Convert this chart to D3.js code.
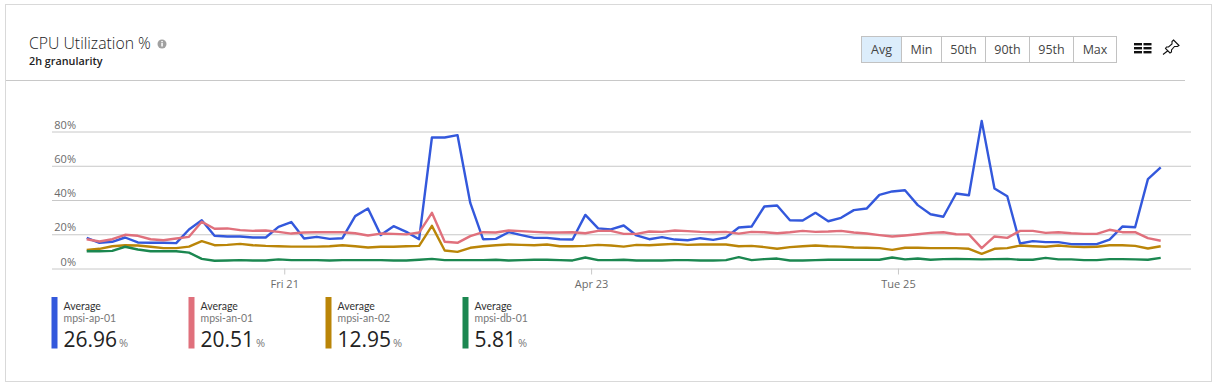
<!DOCTYPE html>
<html lang="en">
    <head>
        <meta charset="utf-8">
        <title>CPU Utilization %</title>
        <script src="https://d3js.org/d3.v7.min.js"></script>
        <style type="text/css">
            html, body { margin: 0; padding: 0; background: #fff; overflow: hidden; }
            svg { display: block; font-family: "Open Sans", sans-serif; }
            .axis path { display: none; }
            .axis line { stroke: #c8c8c8; }
            .axis text { fill: #6b6b6b; font-size: 11px; font-family: "Open Sans", sans-serif; }
        </style>
    </head>
    <body>
        <svg width="1216" height="385"></svg>
        <script type="text/javascript">

            const names = ["mpsi-ap-01", "mpsi-an-01", "mpsi-an-02", "mpsi-db-01"];
            const averages = ["26.96", "20.51", "12.95", "5.81"];
            const colors = ["#3358dc", "#e0707c", "#ba8508", "#1b8750"];
            const buttons = ["Avg", "Min", "50th", "90th", "95th", "Max"];
            const buttonEdges = [861.5, 901.5, 941.5, 985.5, 1029.5, 1073.5, 1116.5];

            const yTicks = [0, 20, 40, 60, 80];
            // x is the index of the 2h sample
            const xTicks = [15.45, 39.45, 63.45];
            const xLabels = ["Fri 21", "Apr 23", "Tue 25"];

            const ap01 = [17.9,15.0,15.6,18.1,15.2,15.0,15.0,14.8,22.8,28.2,
                19.1,18.7,18.7,18.1,18.1,24.3,27.1,17.5,18.5,17.3,
                17.7,30.6,35.0,19.5,24.7,21.4,17.1,76.5,76.5,77.9,
                38.3,17.1,17.3,21.2,19.5,17.9,17.9,17.1,16.9,31.3,
                23.4,22.8,25.1,19.3,17.1,18.3,16.9,16.5,17.7,16.7,
                18.1,23.9,24.5,36.2,36.8,28.2,28.0,32.5,27.6,29.6,
                34.1,35.0,43.0,45.0,45.7,37.0,31.7,30.2,43.8,42.8,
                86.2,46.7,42.2,14.6,16.0,15.4,15.4,14.2,14.2,14.2,
                16.9,24.5,24.1,52.2,59.0];
            const an01 = [17.1,15.8,17.1,19.7,19.1,17.1,16.5,17.5,18.5,27.3,
                23.2,23.4,22.4,22.0,22.2,21.4,20.4,21.0,21.2,21.2,
                21.2,20.6,19.3,20.4,20.2,19.9,21.0,32.5,15.6,15.0,
                18.9,21.2,21.0,22.2,21.8,21.4,21.0,21.0,21.2,20.6,
                22.0,22.0,20.2,20.2,21.6,21.4,22.2,21.8,21.4,21.2,
                21.4,20.4,21.4,21.2,20.6,21.2,22.0,21.4,21.6,22.0,
                21.0,20.4,19.5,18.7,19.3,20.0,20.8,21.2,20.0,19.9,
                11.9,18.7,17.9,22.0,22.0,20.8,21.2,20.6,20.2,20.2,
                22.6,21.2,21.2,17.7,16.2];
            const an02 = [10.9,11.5,13.0,13.6,13.4,12.7,11.9,11.9,12.8,16.0,
                13.6,13.8,14.4,13.6,13.2,13.0,12.8,12.8,12.8,13.0,
                13.6,13.0,12.3,12.7,12.7,13.0,13.2,24.9,10.5,9.7,
                12.1,13.0,13.6,14.0,13.8,13.6,14.0,13.0,13.0,13.2,
                13.8,13.4,12.8,13.8,13.6,14.0,14.4,13.8,14.0,14.0,
                14.0,13.0,13.2,12.5,11.5,12.5,13.0,13.4,13.0,12.8,
                12.3,12.1,11.9,10.9,12.1,12.1,11.9,11.9,11.9,11.5,
                8.6,11.5,11.9,13.4,13.0,12.7,13.4,12.8,12.5,12.7,
                13.6,13.6,13.2,11.7,13.0];
            const db01 = [10.1,10.1,10.3,12.7,11.1,10.1,10.1,10.1,9.3,5.6,
                4.5,4.7,4.9,4.7,4.7,5.3,4.9,4.9,4.9,4.7,
                4.9,4.9,4.9,4.9,4.7,4.7,5.1,5.6,4.9,4.9,
                4.9,4.9,5.1,4.7,4.9,5.1,5.1,4.9,4.7,6.4,
                4.9,4.9,5.1,4.7,4.7,4.7,4.9,4.9,4.7,4.7,
                4.9,6.6,4.9,5.5,5.8,4.7,4.7,4.9,5.1,5.1,
                5.1,5.1,5.1,6.4,5.3,5.8,5.1,5.5,5.6,5.5,
                5.3,5.5,5.6,5.1,5.1,6.2,5.3,5.3,4.9,4.9,
                5.5,5.5,5.3,5.1,6.2];
            const series = [ap01, an01, an02, db01];

            const svg = d3.select("svg");

            // card + header rule
            svg.append("rect").attr("x", 5.5).attr("y", 4.5).attr("width", 1206).attr("height", 377)
               .style("fill", "#fff").style("stroke", "#d9d9d9");
            svg.append("line").attr("x1", 6).attr("x2", 1185).attr("y1", 80.5).attr("y2", 80.5)
               .style("stroke", "#c8c8c8");

            svg.append("text").attr("x", 29).attr("y", 49).text("CPU Utilization %")
               .style("font-size", "15.8px").style("font-weight", 300).style("fill", "#222");
            svg.append("text").attr("x", 29).attr("y", 64.5).text("2h granularity")
               .style("font-size", "10.8px").style("font-weight", 600).style("fill", "#222");

            // info icon
            svg.append("circle").attr("cx", 162).attr("cy", 44).attr("r", 4.5).style("fill", "#a0a0a0");
            svg.append("rect").attr("x", 161.3).attr("y", 43).attr("width", 1.5).attr("height", 3.5).style("fill", "#fff");
            svg.append("rect").attr("x", 161.3).attr("y", 41).attr("width", 1.5).attr("height", 1.3).style("fill", "#fff");

            // aggregation buttons
            const btn = svg.selectAll(".btn").data(buttons).enter().append("g").attr("class", "btn");
            btn.append("rect")
               .attr("x", (d, i) => buttonEdges[i])
               .attr("y", 36.5)
               .attr("width", (d, i) => buttonEdges[i + 1] - buttonEdges[i])
               .attr("height", 26)
               .style("fill", (d, i) => i == 0 ? "#dcedfb" : "#fff")
               .style("stroke", "#c2c2c2");
            btn.append("text")
               .attr("x", (d, i) => (buttonEdges[i] + buttonEdges[i + 1]) / 2)
               .attr("y", 54)
               .attr("text-anchor", "middle")
               .text(d => d)
               .style("font-size", "12.5px")
               .style("fill", "#444");

            // list icon
            [0, 1].forEach(c => [0, 1, 2].forEach(r => {
                svg.append("rect").attr("x", 1134 + c * 9.5).attr("y", 43 + r * 4)
                   .attr("width", 8).attr("height", 2.4).style("fill", "#111");
            }));
            // pin icon
            svg.append("path")
               .attr("d", "M1173.5 40 L1179 45.5 L1177.5 46.5 L1174.5 46.5 L1171.5 50 L1171.5 52 L1170 53 L1165.5 48.5 L1166.5 47 L1168.5 47 L1172 44 L1172 41.5 Z M1167.5 51 L1163 54.5")
               .style("fill", "none").style("stroke", "#111").style("stroke-width", 1.1);

            const x = d3.scaleLinear().domain([0, 84]).range([86.7, 1160.7]);
            const y = d3.scaleLinear().domain([0, 80]).range([268.5, 131.5]);

            const yAxis = d3.axisLeft(y).tickValues(yTicks).tickSize(-1139).tickPadding(0).tickFormat(d => d + "%");
            const yg = svg.append("g").attr("class", "axis").attr("transform", "translate(52,0)").call(yAxis);
            yg.selectAll("text").attr("x", 24).attr("dy", "-3.5").attr("text-anchor", "end");

            const xAxis = d3.axisBottom(x).tickValues(xTicks).tickSize(6).tickPadding(6).tickFormat((d, i) => xLabels[i]);
            svg.append("g").attr("class", "axis").attr("transform", "translate(0,268.5)").call(xAxis);

            const line = d3.line().x((d, i) => x(i)).y(d => y(d));
            svg.selectAll(".series").data(series).enter().append("path")
               .attr("class", "series")
               .attr("d", line)
               .style("fill", "none")
               .style("stroke", (d, i) => colors[i])
               .style("stroke-width", 2.4)
               .style("stroke-linejoin", "round");

            // legend
            const legX = d3.scalePoint().domain(names).range([51.5, 462.5]);
            const leg = svg.selectAll(".leg").data(names).enter().append("g")
               .attr("class", "leg")
               .attr("transform", d => "translate(" + legX(d) + ",0)");
            leg.append("rect").attr("y", 297).attr("width", 6).attr("height", 51.5)
               .style("fill", (d, i) => colors[i]);
            leg.append("text").attr("x", 12).attr("y", 309.5).text("Average")
               .style("font-family", "Lato, sans-serif").style("font-size", "10.5px").style("fill", "#333");
            leg.append("text").attr("x", 12).attr("y", 322).text(d => d)
               .style("font-family", "Lato, sans-serif").style("font-size", "10.5px").style("fill", "#777");
            leg.append("text").attr("x", 12).attr("y", 347).text((d, i) => averages[i])
               .attr("class", "val")
               .style("font-size", "21px").style("fill", "#222");
            leg.each(function() {
                const g = d3.select(this);
                const w = g.select(".val").node().getComputedTextLength();
                g.append("text").attr("x", 12 + w + 2).attr("y", 347).text("%")
                 .style("font-size", "11px").style("fill", "#777");
            });

        </script>
    </body>
</html>
